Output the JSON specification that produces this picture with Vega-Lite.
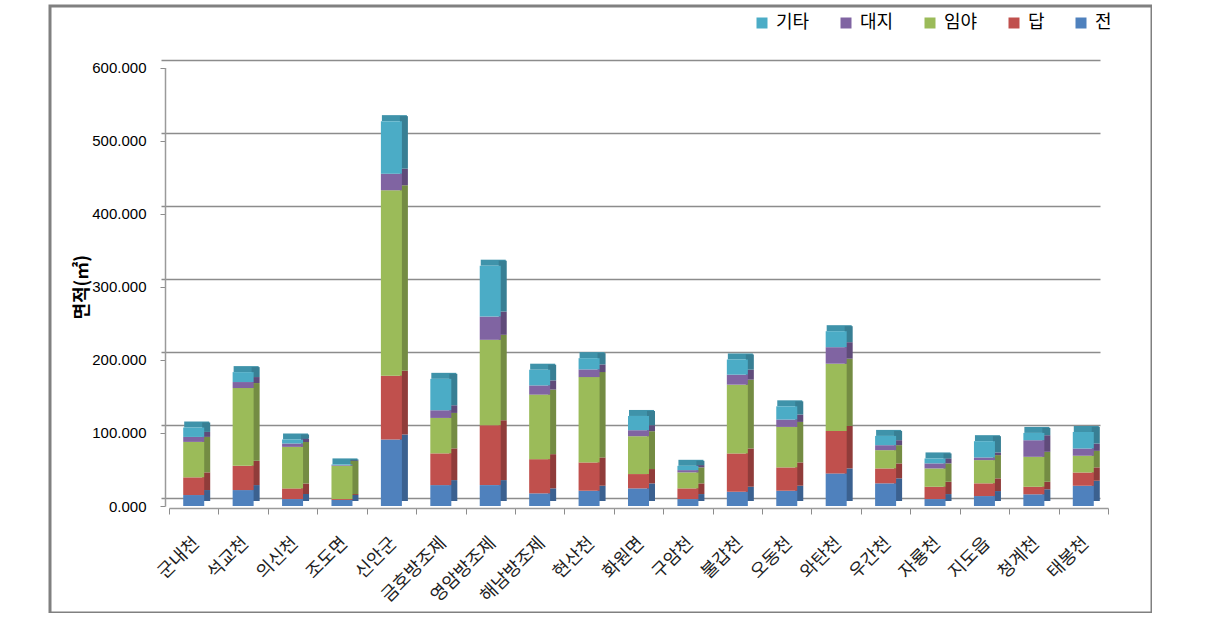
{
  "$schema": "https://vega.github.io/schema/vega-lite/v6.json",
  "width": 1102,
  "height": 607,
  "autosize": {"type": "none"},
  "padding": {"left": 50, "top": 6, "right": 0, "bottom": 0},
  "background": "white",
  "config": {
    "view": {"stroke": "#808080", "strokeWidth": 3},
    "font": "Noto Sans CJK KR"
  },
  "data": {
    "values": [
      {"지역": "군내천", "분류": "전", "면적": 15000}, {"지역": "군내천", "분류": "답", "면적": 24200}, {"지역": "군내천", "분류": "임야", "면적": 48500}, {"지역": "군내천", "분류": "대지", "면적": 6800}, {"지역": "군내천", "분류": "기타", "면적": 12900},
      {"지역": "석교천", "분류": "전", "면적": 21800}, {"지역": "석교천", "분류": "답", "면적": 33200}, {"지역": "석교천", "분류": "임야", "면적": 106400}, {"지역": "석교천", "분류": "대지", "면적": 8200}, {"지역": "석교천", "분류": "기타", "면적": 13600},
      {"지역": "의신천", "분류": "전", "면적": 9500}, {"지역": "의신천", "분류": "답", "면적": 14600}, {"지역": "의신천", "분류": "임야", "면적": 56800}, {"지역": "의신천", "분류": "대지", "면적": 4600}, {"지역": "의신천", "분류": "기타", "면적": 5500},
      {"지역": "조도면", "분류": "전", "면적": 8200}, {"지역": "조도면", "분류": "답", "면적": 1300}, {"지역": "조도면", "분류": "임야", "면적": 45500}, {"지역": "조도면", "분류": "대지", "면적": 900}, {"지역": "조도면", "분류": "기타", "면적": 1000},
      {"지역": "신안군", "분류": "전", "면적": 91000}, {"지역": "신안군", "분류": "답", "면적": 87300}, {"지역": "신안군", "분류": "임야", "면적": 253700}, {"지역": "신안군", "분류": "대지", "면적": 22700}, {"지역": "신안군", "분류": "기타", "면적": 71900},
      {"지역": "금호방조제", "분류": "전", "면적": 28600}, {"지역": "금호방조제", "분류": "답", "면적": 43400}, {"지역": "금호방조제", "분류": "임야", "면적": 48500}, {"지역": "금호방조제", "분류": "대지", "면적": 10500}, {"지역": "금호방조제", "분류": "기타", "면적": 43000},
      {"지역": "영암방조제", "분류": "전", "면적": 28600}, {"지역": "영암방조제", "분류": "답", "면적": 81900}, {"지역": "영암방조제", "분류": "임야", "면적": 116900}, {"지역": "영암방조제", "분류": "대지", "면적": 31800}, {"지역": "영암방조제", "분류": "기타", "면적": 69600},
      {"지역": "해남방조제", "분류": "전", "면적": 17300}, {"지역": "해남방조제", "분류": "답", "면적": 46800}, {"지역": "해남방조제", "분류": "임야", "면적": 88300}, {"지역": "해남방조제", "분류": "대지", "면적": 12600}, {"지역": "해남방조제", "분류": "기타", "면적": 21500},
      {"지역": "현산천", "분류": "전", "면적": 20900}, {"지역": "현산천", "분류": "답", "면적": 38700}, {"지역": "현산천", "분류": "임야", "면적": 116800}, {"지역": "현산천", "분류": "대지", "면적": 10500}, {"지역": "현산천", "분류": "기타", "면적": 15400},
      {"지역": "화원면", "분류": "전", "면적": 24100}, {"지역": "화원면", "분류": "답", "면적": 19600}, {"지역": "화원면", "분류": "임야", "면적": 51800}, {"지역": "화원면", "분류": "대지", "면적": 8200}, {"지역": "화원면", "분류": "기타", "면적": 19500},
      {"지역": "구암천", "분류": "전", "면적": 9500}, {"지역": "구암천", "분류": "답", "면적": 14600}, {"지역": "구암천", "분류": "임야", "면적": 21900}, {"지역": "구암천", "분류": "대지", "면적": 3100}, {"지역": "구암천", "분류": "기타", "면적": 5900},
      {"지역": "불갑천", "분류": "전", "면적": 19500}, {"지역": "불갑천", "분류": "답", "면적": 52400}, {"지역": "불갑천", "분류": "임야", "면적": 94100}, {"지역": "불갑천", "분류": "대지", "면적": 13700}, {"지역": "불갑천", "분류": "기타", "면적": 20800},
      {"지역": "오동천", "분류": "전", "면적": 20900}, {"지역": "오동천", "분류": "답", "면적": 31900}, {"지역": "오동천", "분류": "임야", "면적": 55400}, {"지역": "오동천", "분류": "대지", "면적": 10100}, {"지역": "오동천", "분류": "기타", "면적": 18100},
      {"지역": "와탄천", "분류": "전", "면적": 44600}, {"지역": "와탄천", "분류": "답", "면적": 58100}, {"지역": "와탄천", "분류": "임야", "면적": 92000}, {"지역": "와탄천", "분류": "대지", "면적": 22600}, {"지역": "와탄천", "분류": "기타", "면적": 21900},
      {"지역": "우간천", "분류": "전", "면적": 31000}, {"지역": "우간천", "분류": "답", "면적": 20400}, {"지역": "우간천", "분류": "임야", "면적": 25000}, {"지역": "우간천", "분류": "대지", "면적": 6800}, {"지역": "우간천", "분류": "기타", "면적": 12700},
      {"지역": "자룡천", "분류": "전", "면적": 9500}, {"지역": "자룡천", "분류": "답", "면적": 16800}, {"지역": "자룡천", "분류": "임야", "면적": 25100}, {"지역": "자룡천", "분류": "대지", "면적": 6900}, {"지역": "자룡천", "분류": "기타", "면적": 6800},
      {"지역": "지도읍", "분류": "전", "면적": 13600}, {"지역": "지도읍", "분류": "답", "면적": 17400}, {"지역": "지도읍", "분류": "임야", "면적": 31800}, {"지역": "지도읍", "분류": "대지", "면적": 3600}, {"지역": "지도읍", "분류": "기타", "면적": 22300},
      {"지역": "청계천", "분류": "전", "면적": 16000}, {"지역": "청계천", "분류": "답", "면적": 10300}, {"지역": "청계천", "분류": "임야", "면적": 41000}, {"지역": "청계천", "분류": "대지", "면적": 22700}, {"지역": "청계천", "분류": "기타", "면적": 10000},
      {"지역": "태봉천", "분류": "전", "면적": 27700}, {"지역": "태봉천", "분류": "답", "면적": 18300}, {"지역": "태봉천", "분류": "임야", "면적": 22600}, {"지역": "태봉천", "분류": "대지", "면적": 10000}, {"지역": "태봉천", "분류": "기타", "면적": 22800}
    ]
  },
  "transform": [
    {"stack": "면적", "groupby": ["지역"], "as": ["y0", "y1"]}
  ],
  "encoding": {
    "x": {
      "field": "지역", "type": "nominal", "sort": null,
      "scale": {"range": [119, 1058], "paddingInner": 0, "paddingOuter": 0},
      "axis": {
        "title": null, "offset": -105, "labelAngle": -45,
        "labelAlign": "right", "labelBaseline": "top", "labelOffset": -4,
        "labelFontSize": 18, "labelFont": "Noto Sans CJK KR", "labelColor": "#222",
        "tickBand": "extent", "tickSize": 6, "tickColor": "#8c8c8c",
        "domainColor": "#9a9a9a", "domainWidth": 1.5, "labelPadding": 20
      }
    }
  },
  "layer": [
    {
      "transform": [{"filter": "datum['분류'] === '기타'"}],
      "mark": {"type": "bar", "width": 25, "xOffset": 3, "yOffset": -6, "y2Offset": 0},
      "encoding": {
        "y": {"field": "y1", "type": "quantitative", "axis": null,
              "scale": {"domain": [0, 600000], "range": [500, 61.5], "nice": false}},
        "y2": {"field": "y1"},
        "color": {"value": "#3F93AA"}
      }
    },
    {
      "mark": {"type": "bar", "width": 8, "xOffset": 12.5, "yOffset": -5, "y2Offset": -5},
      "encoding": {
        "y": {"field": "y1", "type": "quantitative",
              "scale": {"domain": [0, 600000], "range": [500, 61.5], "nice": false},
              "axis": {"orient": "left", "grid": true, "gridColor": "#8c8c8c", "gridWidth": 1.5,
                       "labels": false, "ticks": false, "domain": false, "title": null,
                       "translate": -7.5,
                       "values": [0, 100000, 200000, 300000, 400000, 500000, 600000]}},
        "y2": {"field": "y0"},
        "color": {"field": "분류", "type": "nominal", "legend": null,
                  "scale": {"domain": ["기타", "대지", "임야", "답", "전"],
                            "range": ["#387F94", "#604B7A", "#748C43", "#903C3A", "#3B6190"]}}
      }
    },
    {
      "mark": {"type": "bar", "width": 21},
      "encoding": {
        "y": {"field": "y1", "type": "quantitative",
              "scale": {"domain": [0, 600000], "range": [500, 61.5], "nice": false},
              "axis": {"orient": "left", "offset": -115, "grid": false,
                       "values": [0, 100000, 200000, 300000, 400000, 500000, 600000],
                       "labelExpr": "format(datum.value / 1000, '.3f')",
                       "labelFont": "Liberation Sans", "labelFontSize": 15, "labelColor": "#000",
                       "labelPadding": 14, "tickSize": 5, "tickColor": "#8c8c8c",
                       "domainColor": "#9a9a9a", "domainWidth": 1.5,
                       "title": "면적(㎡)", "titleFont": "Noto Sans CJK KR", "titleFontSize": 18,
                       "titleFontWeight": "bold", "titleColor": "#000", "titlePadding": 0}},
        "y2": {"field": "y0"},
        "color": {"field": "분류", "type": "nominal",
                  "scale": {"domain": ["기타", "대지", "임야", "답", "전"],
                            "range": ["#4BACC6", "#8064A2", "#9BBB59", "#C0504D", "#4F81BD"]},
                  "legend": {"orient": "none", "legendX": 703, "legendY": 8, "direction": "horizontal",
                             "title": null, "symbolType": "square", "symbolSize": 121,
                             "symbolStrokeWidth": 0, "labelFontSize": 18, "labelFont": "Noto Sans CJK KR",
                             "labelColor": "#000", "labelOffset": 5, "columnPadding": 27}}
      }
    }
  ],
  "resolve": {"scale": {"color": "independent"}, "axis": {"y": "independent"}}
}
